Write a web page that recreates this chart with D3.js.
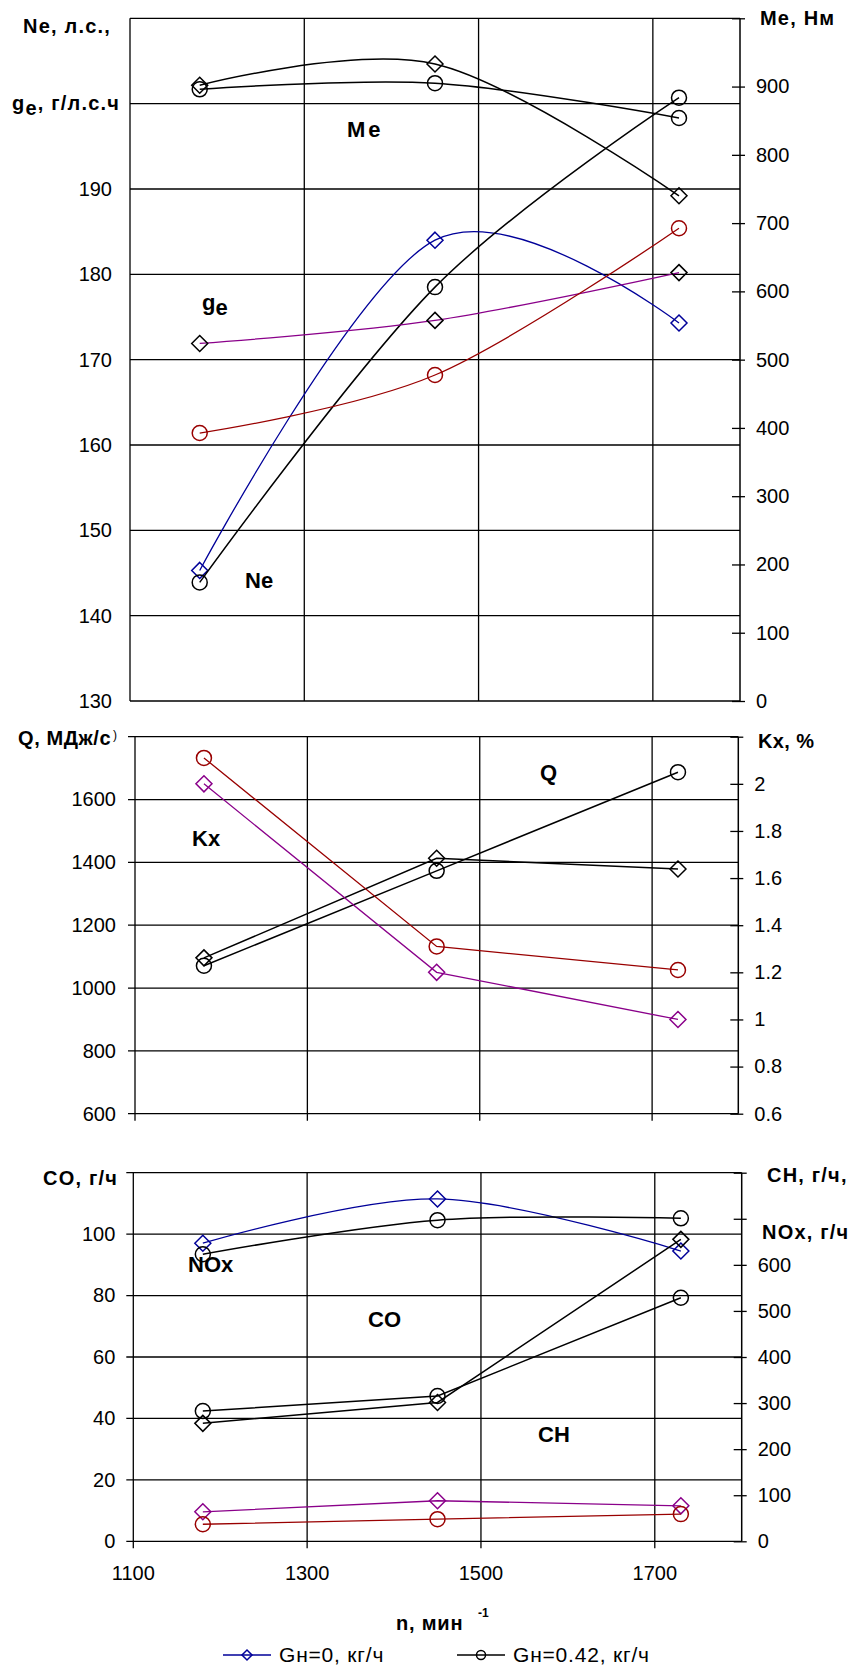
<!DOCTYPE html>
<html>
<head>
<meta charset="utf-8">
<script src="https://cdn.jsdelivr.net/npm/d3@7"></script>
<style>
  body { margin: 0; background: #fff; }
  svg text { font-family: "Liberation Sans", Arial, sans-serif; fill: #000; }
</style>
</head>
<body>
<svg id="chart" width="850" height="1668"></svg>
<script>
// engine speed, min^-1
const rpm = [1180, 1450, 1730];
const xTicks = [1100, 1300, 1500, 1700];

// panel 1: Ne (hp), ge (g/hp.h) on left; Me (N.m) on right
const neG0 = [145.3, 184.0, 174.3];
const neG042 = [143.9, 178.5, 200.7];
const geG0 = [171.9, 174.6, 180.2];
const geG042 = [161.4, 168.2, 185.4];
const meG0 = [902, 933, 740];
const meG042 = [896, 905, 854];
const p1LeftTicks = [130, 140, 150, 160, 170, 180, 190, 200, 210];
const p1LeftLabels = [130, 140, 150, 160, 170, 180, 190];
const p1RightTicks = [0, 100, 200, 300, 400, 500, 600, 700, 800, 900, 1000];
const p1RightLabels = [0, 100, 200, 300, 400, 500, 600, 700, 800, 900];

// panel 2: Q (MJ/s) on left; Kx (%) on right
const qG0 = [1096, 1413, 1379];
const qG042 = [1071, 1373, 1687];
const kxG0 = [2.0, 1.2, 1.0];
const kxG042 = [2.11, 1.31, 1.21];
const p2LeftTicks = [600, 800, 1000, 1200, 1400, 1600, 1800];
const p2LeftLabels = [600, 800, 1000, 1200, 1400, 1600];
const p2RightTicks = [0.6, 0.8, 1.0, 1.2, 1.4, 1.6, 1.8, 2.0, 2.2];
const p2RightLabels = [0.6, 0.8, 1.0, 1.2, 1.4, 1.6, 1.8, 2.0];

// panel 3: CO (g/h) on left; CH, NOx (g/h) on right
const noxG0 = [647, 743, 630];
const noxG042 = [623, 697, 701];
const coG0 = [38.4, 45.2, 98.3];
const coG042 = [42.4, 47.3, 79.3];
const chG0 = [64, 88, 77];
const chG042 = [37, 48, 59];
const p3LeftTicks = [0, 20, 40, 60, 80, 100, 120];
const p3LeftLabels = [0, 20, 40, 60, 80, 100];
const p3RightTicks = [0, 100, 200, 300, 400, 500, 600, 700, 800];
const p3RightLabels = [0, 100, 200, 300, 400, 500, 600];

const BLUE = "#000099", PURPLE = "#8a008a", RED = "#990000", BLACK = "#000";

const svg = d3.select("#chart");

const panels = [
  {
    x0: 130, x1: 740, y0: 18.3, y1: 701, outTick: 0, labelGap: 18,
    leftDomain: [130, 210], rightDomain: [0, 1000],
    leftTicks: p1LeftTicks, leftLabels: p1LeftLabels,
    rightTicks: p1RightTicks, rightLabels: p1RightLabels,
    series: [
      { v: meG0, axis: "r", stroke: BLACK, mark: "d", mc: BLACK, smooth: true },
      { v: meG042, axis: "r", stroke: BLACK, mark: "c", mc: BLACK, smooth: true },
      { v: neG0, axis: "l", stroke: BLUE, mark: "d", mc: BLUE, smooth: true },
      { v: neG042, axis: "l", stroke: BLACK, mark: "c", mc: BLACK, smooth: true },
      { v: geG0, axis: "l", stroke: PURPLE, mark: "d", mc: BLACK, smooth: true },
      { v: geG042, axis: "l", stroke: RED, mark: "c", mc: RED, smooth: true }
    ]
  },
  {
    x0: 135, x1: 738.3, y0: 736.7, y1: 1113.7, outTick: 7, labelGap: 19,
    leftDomain: [600, 1800], rightDomain: [0.6, 2.2],
    leftTicks: p2LeftTicks, leftLabels: p2LeftLabels,
    rightTicks: p2RightTicks, rightLabels: p2RightLabels,
    series: [
      { v: qG0, axis: "l", stroke: BLACK, mark: "d", mc: BLACK },
      { v: qG042, axis: "l", stroke: BLACK, mark: "c", mc: BLACK },
      { v: kxG0, axis: "r", stroke: PURPLE, mark: "d", mc: PURPLE },
      { v: kxG042, axis: "r", stroke: RED, mark: "c", mc: RED }
    ]
  },
  {
    x0: 133.3, x1: 741.7, y0: 1172.7, y1: 1541.3, outTick: 7, labelGap: 18,
    leftDomain: [0, 120], rightDomain: [0, 800],
    leftTicks: p3LeftTicks, leftLabels: p3LeftLabels,
    rightTicks: p3RightTicks, rightLabels: p3RightLabels,
    xLabels: true,
    series: [
      { v: noxG0, axis: "r", stroke: BLUE, mark: "d", mc: BLUE, smooth: true },
      { v: noxG042, axis: "r", stroke: BLACK, mark: "c", mc: BLACK, smooth: true },
      { v: coG0, axis: "l", stroke: BLACK, mark: "d", mc: BLACK },
      { v: coG042, axis: "l", stroke: BLACK, mark: "c", mc: BLACK },
      { v: chG0, axis: "r", stroke: PURPLE, mark: "d", mc: PURPLE },
      { v: chG042, axis: "r", stroke: RED, mark: "c", mc: RED }
    ]
  }
];

function drawMarker(g, type, cx, cy, color, size) {
  if (type === "d") {
    g.append("path")
      .attr("d", `M${cx},${cy - size}L${cx + size},${cy}L${cx},${cy + size}L${cx - size},${cy}Z`)
      .attr("fill", "none").attr("stroke", color).attr("stroke-width", 1.5);
  } else {
    g.append("circle").attr("cx", cx).attr("cy", cy).attr("r", size - 0.5)
      .attr("fill", "none").attr("stroke", color).attr("stroke-width", 1.5);
  }
}

panels.forEach(p => {
  const x = d3.scaleLinear().domain([1100, 1800]).range([p.x0, p.x1]);
  const yL = d3.scaleLinear().domain(p.leftDomain).range([p.y1, p.y0]);
  const yR = d3.scaleLinear().domain(p.rightDomain).range([p.y1, p.y0]);
  const g = svg.append("g");

  // horizontal grid (left axis values)
  g.append("g").selectAll("line").data(p.leftTicks).join("line")
    .attr("x1", p.x0 - p.outTick).attr("x2", p.x1)
    .attr("y1", d => yL(d)).attr("y2", d => yL(d))
    .attr("stroke", "#000").attr("stroke-width", 1.3);

  // vertical grid
  g.append("g").selectAll("line").data(xTicks).join("line")
    .attr("x1", d => x(d)).attr("x2", d => x(d))
    .attr("y1", p.y0).attr("y2", p.y1 + p.outTick)
    .attr("stroke", "#000").attr("stroke-width", 1.3);

  // left labels
  const leftAxis = g.append("g").attr("transform", `translate(${p.x0},0)`)
    .call(d3.axisLeft(yL).tickValues(p.leftLabels).tickSize(0)
      .tickPadding(p.labelGap).tickFormat(d3.format("d")));
  leftAxis.select(".domain").remove();
  leftAxis.selectAll("text").attr("font-size", 20).attr("font-family", null);

  // right axis with cross ticks
  const fmt = d => String(+d.toFixed(1));
  const rightAxis = g.append("g").attr("transform", `translate(${p.x1},0)`)
    .call(d3.axisRight(yR).tickValues(p.rightTicks).tickSize(5).tickPadding(11)
      .tickFormat(d => p.rightLabels.some(v => Math.abs(v - d) < 1e-9) ? fmt(d) : ""));
  rightAxis.select(".domain").attr("d", `M0,${p.y0}V${p.y1}`).attr("stroke-width", 1.5);
  rightAxis.selectAll(".tick line").attr("x1", -8).attr("stroke-width", 1.3);
  rightAxis.selectAll("text").attr("font-size", 20).attr("font-family", null);

  // series
  const lineL = d3.line().x((d, i) => x(rpm[i])).y(d => yL(d));
  const lineR = d3.line().x((d, i) => x(rpm[i])).y(d => yR(d));
  p.series.forEach(s => {
    const gen = s.axis === "l" ? lineL : lineR;
    gen.curve(s.smooth ? d3.curveCardinal.tension(0) : d3.curveLinear);
    g.append("path").attr("d", gen(s.v))
      .attr("fill", "none").attr("stroke", s.stroke)
      .attr("stroke-width", s.stroke === BLACK ? 1.5 : 1.3);
    const yy = s.axis === "l" ? yL : yR;
    s.v.forEach((v, i) => drawMarker(g, s.mark, x(rpm[i]), yy(v), s.mc, 8));
  });

  if (p.xLabels) {
    g.append("g").selectAll("text").data(xTicks).join("text")
      .attr("x", d => x(d)).attr("y", 1580)
      .attr("text-anchor", "middle").attr("font-size", 20)
      .text(d => d);
  }
});

// titles and curve labels
function txt(x, y, s, size, bold, spacing) {
  return svg.append("text").attr("x", x).attr("y", y)
    .attr("font-size", size).attr("font-weight", bold ? "bold" : "normal")
    .attr("letter-spacing", spacing || 0).text(s);
}
function subE(x, y, rest, size, spacing) {
  const t = svg.append("text").attr("x", x).attr("y", y)
    .attr("font-size", size).attr("font-weight", "bold")
    .attr("letter-spacing", spacing || 0);
  t.append("tspan").text("g");
  t.append("tspan").attr("dy", 5).text("e");
  if (rest) t.append("tspan").attr("dy", -5).text(rest);
  return t;
}

const TS = 20, LS = 1.2;
txt(23, 33, "Ne, л.с.,", TS, true, LS);
subE(12, 110, ", г/л.с.ч", TS, LS);
txt(760, 25, "Me, Нм", TS, true, LS);
txt(347, 137, "Me", 22, true, 3);
subE(202, 310, null, 22);
txt(245, 588, "Ne", 22, true);

txt(18, 745, "Q, МДж/с", TS, true, 0.6);
txt(113, 739, ")", 12, false);
txt(758, 748, "Kx, %", TS, true, 0.4);
txt(192, 846, "Kx", 22, true);
txt(540, 780, "Q", 22, true);

txt(43, 1185, "CO, г/ч", TS, true, LS);
txt(767, 1182, "CH, г/ч,", TS, true, LS);
txt(762, 1239, "NOx, г/ч", TS, true, LS);
txt(188, 1272, "NOx", 22, true);
txt(368, 1327, "CO", 22, true);
txt(538, 1442, "CH", 22, true);

// x axis title
txt(396, 1630, "n, мин", 20, true, 0.8);
txt(478, 1617, "-1", 12, true);

// legend
const legend = [
  { label: "Gн=0, кг/ч", color: BLUE, mark: "d", x: 223 },
  { label: "Gн=0.42, кг/ч", color: BLACK, mark: "c", x: 457 }
];
const lg = svg.append("g");
legend.forEach(l => {
  lg.append("line").attr("x1", l.x).attr("x2", l.x + 48)
    .attr("y1", 1655).attr("y2", 1655)
    .attr("stroke", l.color).attr("stroke-width", 1.5);
  drawMarker(lg, l.mark, l.x + 24, 1655, l.color, 5);
  lg.append("text").attr("x", l.x + 56).attr("y", 1662)
    .attr("font-size", 21).attr("letter-spacing", 0.8).text(l.label);
});
</script>
</body>
</html>
